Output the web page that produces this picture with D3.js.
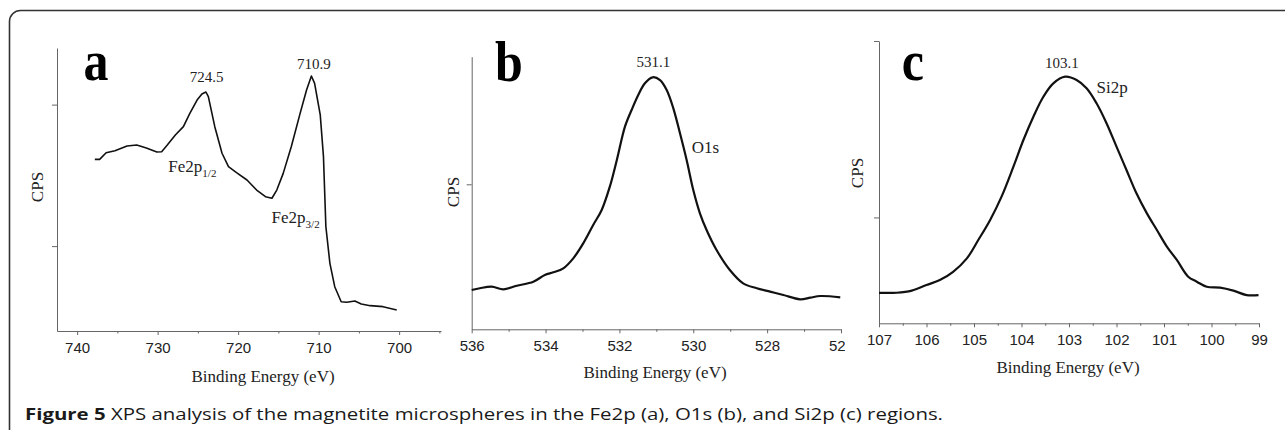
<!DOCTYPE html>
<html>
<head>
<meta charset="utf-8">
<script src="https://cdn.jsdelivr.net/npm/d3@7"></script>
<style>
  body { margin: 0; background: #fff; }
  svg text { fill: #222; }
  .tick text { font-family: "Liberation Sans", Arial, sans-serif; font-size: 15px; }
  .serif { font-family: "Liberation Serif", "Times New Roman", serif; }
</style>
</head>
<body>
<svg id="chart" width="1285" height="430"></svg>
<script>
// Fe2p region (a)
const feEnergy = [737.8, 737.2, 736.4, 735.3, 733.8, 732.6, 731.4, 730.1, 729.5, 728.8, 727.8, 726.8, 726.0, 725.1, 724.5, 724.0, 723.7, 722.9, 722.0, 721.2, 720.2, 718.9, 717.7, 716.6, 715.8, 715.2, 714.4, 713.4, 712.3, 711.5, 710.9, 710.5, 709.8, 709.4, 709.1, 708.6, 708.0, 707.2, 706.5, 705.5, 704.7, 703.6, 702.0, 700.3];
const feCps = [1.613, 1.613, 1.660, 1.674, 1.707, 1.714, 1.693, 1.665, 1.667, 1.714, 1.785, 1.844, 1.938, 2.032, 2.075, 2.089, 2.056, 1.844, 1.656, 1.561, 1.519, 1.467, 1.396, 1.349, 1.338, 1.396, 1.514, 1.702, 1.938, 2.103, 2.202, 2.150, 1.927, 1.632, 1.137, 0.878, 0.713, 0.607, 0.603, 0.612, 0.591, 0.579, 0.572, 0.548];
const feTicks = [740, 730, 720, 710, 700];
const feMinor = [735, 725, 715, 705, 695];

// O1s region (b)
const oEnergy = [536.0, 535.78, 535.46, 535.14, 534.78, 534.33, 534.02, 533.79, 533.52, 533.25, 532.98, 532.71, 532.48, 532.26, 532.07, 531.85, 531.67, 531.49, 531.31, 531.10, 530.90, 530.72, 530.54, 530.36, 530.18, 530.00, 529.82, 529.64, 529.37, 529.01, 528.65, 528.28, 527.92, 527.56, 527.11, 526.83, 526.56, 526.02];
const oCps = [0.542, 0.566, 0.588, 0.552, 0.601, 0.657, 0.749, 0.786, 0.841, 0.979, 1.186, 1.439, 1.646, 1.967, 2.335, 2.795, 3.025, 3.232, 3.393, 3.476, 3.438, 3.301, 3.048, 2.703, 2.335, 1.921, 1.600, 1.370, 1.094, 0.818, 0.634, 0.566, 0.519, 0.473, 0.414, 0.436, 0.459, 0.441];
const oTicks = [536, 534, 532, 530, 528, 526];
const oMinor = [535, 533, 531, 529, 527];

// Si2p region (c)
const siEnergy = [107.0, 106.63, 106.31, 106.0, 105.72, 105.44, 105.15, 104.91, 104.66, 104.42, 104.17, 103.96, 103.75, 103.54, 103.33, 103.08, 102.84, 102.63, 102.42, 102.21, 102.0, 101.79, 101.58, 101.36, 101.15, 100.94, 100.73, 100.49, 100.31, 100.10, 99.82, 99.54, 99.26, 99.01];
const siCps = [0.573, 0.573, 0.585, 0.617, 0.645, 0.692, 0.768, 0.872, 0.986, 1.118, 1.288, 1.439, 1.571, 1.684, 1.760, 1.798, 1.779, 1.732, 1.647, 1.534, 1.401, 1.269, 1.137, 1.023, 0.929, 0.835, 0.759, 0.664, 0.636, 0.607, 0.602, 0.585, 0.560, 0.560];
const siTicks = [107, 106, 105, 104, 103, 102, 101, 100, 99];
const siMinor = [106.5, 105.5, 104.5, 103.5, 102.5, 101.5, 100.5, 99.5];

const caption = "XPS analysis of the magnetite microspheres in the Fe2p (a), O1s (b), and Si2p (c) regions.";

const svg = d3.select("#chart");

// outer frame, right and bottom edges fall outside the picture
svg.append("rect")
    .attr("x", 9.5).attr("y", 10.5)
    .attr("width", 1320).attr("height", 460)
    .attr("rx", 11)
    .attr("fill", "none")
    .attr("stroke", "#333")
    .attr("stroke-width", 1.6);

const panels = [
    {
        id: "a", energy: feEnergy, cps: feCps, major: feTicks, minor: feMinor,
        x: [57, 441], y: [331, 48], xDomain: [742.5, 694.8], yDomain: [0.4, 2.4], yTicks: [1, 2],
        width: 1.6, curve: d3.curveLinear, titleX: 263, titleY: 382,
        cpsX: 37, cpsY: 187, clip: null,
        letter: [739.2, 2.174],
        notes: [
            { t: "724.5", e: 723.9, v: 2.158, anchor: "middle", size: 15 },
            { t: "710.9", e: 710.6, v: 2.252, anchor: "middle", size: 15 },
            { t: "Fe2p", sub: "1/2", e: 728.67, v: 1.522, anchor: "start", size: 17 },
            { t: "Fe2p", sub: "3/2", e: 715.84, v: 1.161, anchor: "start", size: 17 }
        ]
    },
    {
        id: "b", energy: oEnergy, cps: oCps, major: oTicks, minor: oMinor,
        x: [471.7, 841], y: [329.3, 56.7], xDomain: [536, 526], yDomain: [0, 3.76], yTicks: [2],
        width: 2.2, curve: d3.curveCatmullRom, titleX: 655, titleY: 378,
        cpsX: 453, cpsY: 192, clip: [447, 0, 398, 430],
        letter: [535.37, 3.429],
        notes: [
            { t: "531.1", e: 531.08, v: 3.614, anchor: "middle", size: 15 },
            { t: "O1s", e: 530.04, v: 2.428, anchor: "start", size: 17 }
        ]
    },
    {
        id: "c", energy: siEnergy, cps: siCps, major: siTicks, minor: siMinor,
        x: [879, 1259], y: [323.3, 41], xDomain: [107, 99], yDomain: [0.4, 2.0], yTicks: [1, 2],
        width: 2.2, curve: d3.curveCatmullRom, titleX: 1068, titleY: 373,
        cpsX: 857, cpsY: 173, clip: null,
        letter: [106.52, 1.779],
        notes: [
            { t: "103.1", e: 103.15, v: 1.849, anchor: "middle", size: 15 },
            { t: "Si2p", e: 102.42, v: 1.707, anchor: "start", size: 17 }
        ]
    }
];

panels.forEach(p => {
    const sx = d3.scaleLinear().domain(p.xDomain).range(p.x);
    const sy = d3.scaleLinear().domain(p.yDomain).range(p.y);

    let g = svg.append("g").attr("class", "panel-" + p.id);
    if (p.clip) {
        svg.append("clipPath").attr("id", "clip-" + p.id)
            .append("rect")
            .attr("x", p.clip[0]).attr("y", p.clip[1])
            .attr("width", p.clip[2]).attr("height", p.clip[3]);
        g.attr("clip-path", `url(#clip-${p.id})`);
    }

    // x axis, major and minor ticks
    const xAxis = d3.axisBottom(sx)
        .tickValues(p.major)
        .tickSize(4)
        .tickSizeOuter(0)
        .tickPadding(7)
        .tickFormat(d3.format("d"));
    const gx = g.append("g")
        .attr("transform", `translate(0,${p.y[0]})`)
        .call(xAxis);

    g.append("g")
        .attr("transform", `translate(0,${p.y[0]})`)
        .call(d3.axisBottom(sx).tickValues(p.minor).tickSize(2.5).tickFormat(""))
        .call(s => s.select(".domain").remove());

    // y axis, no labels
    g.append("g")
        .attr("transform", `translate(${p.x[0]},0)`)
        .call(d3.axisLeft(sy).tickValues(p.yTicks).tickSize(5).tickSizeOuter(0).tickFormat(""));

    g.selectAll(".domain, .tick line").attr("stroke", "#666").attr("stroke-width", 1);
    gx.selectAll(".tick text").attr("fill", "#222");

    g.append("text")
        .attr("class", "serif")
        .attr("x", p.titleX).attr("y", p.titleY)
        .attr("text-anchor", "middle")
        .attr("font-size", 17)
        .text("Binding Energy (eV)");

    g.append("text")
        .attr("class", "serif")
        .attr("transform", `translate(${p.cpsX},${p.cpsY})rotate(-90)`)
        .attr("dy", "0.35em")
        .attr("text-anchor", "middle")
        .attr("font-size", 17)
        .text("CPS");

    const line = d3.line()
        .x((d, i) => sx(p.energy[i]))
        .y(d => sy(d))
        .curve(p.curve);

    g.append("path")
        .datum(p.cps)
        .attr("fill", "none")
        .attr("stroke", "#111")
        .attr("stroke-width", p.width)
        .attr("stroke-linejoin", "round")
        .attr("d", line);

    // panel letter, stretched a bit taller like the original
    g.append("text")
        .attr("class", "serif")
        .attr("transform", `translate(${sx(p.letter[0])},${sy(p.letter[1])})scale(1,1.15)`)
        .attr("font-size", 50)
        .attr("font-weight", "bold")
        .style("fill", "#000")
        .text(p.id);

    p.notes.forEach(n => {
        const t = g.append("text")
            .attr("class", "serif")
            .attr("x", sx(n.e)).attr("y", sy(n.v))
            .attr("text-anchor", n.anchor)
            .attr("font-size", n.size)
            .text(n.t);
        if (n.sub) {
            t.append("tspan")
                .attr("dy", 5)
                .attr("font-size", 11)
                .text(n.sub);
        }
    });
});

// caption
const cap = svg.append("text")
    .attr("x", 25).attr("y", 420)
    .attr("font-family", "'Open Sans', 'Noto Sans', sans-serif")
    .attr("font-size", 16)
    .style("fill", "#1a1a1a");
cap.append("tspan").attr("font-weight", "bold").text("Figure 5 ");
cap.append("tspan").attr("font-weight", 500).text(caption);
const capLen = cap.node().getComputedTextLength();
if (Math.abs(capLen - 918) > 4) {
    cap.attr("textLength", 918).attr("lengthAdjust", "spacingAndGlyphs");
}
</script>
</body>
</html>
